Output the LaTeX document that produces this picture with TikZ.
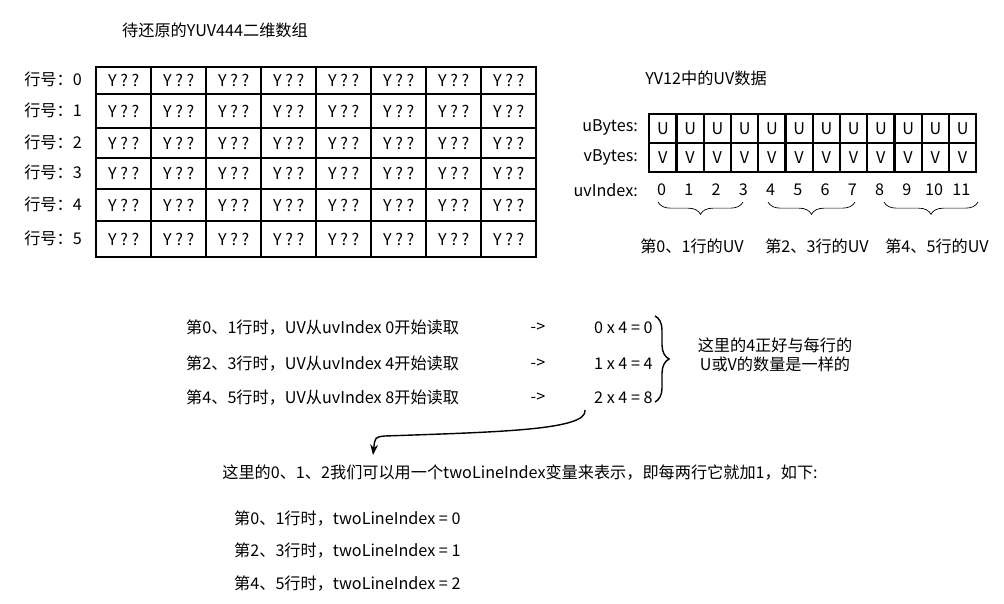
\documentclass[tikz,border=0pt]{standalone}
\usepackage{fontspec}
\setmainfont{Noto Sans CJK SC}
\usetikzlibrary{decorations.pathreplacing,arrows.meta}
\begin{document}
\begin{tikzpicture}[x=0.02cm,y=-0.02cm,font=\fontsize{9.2}{11}\selectfont,
  cell/.style={draw,line width=1.4pt,minimum width=55*0.02cm,minimum height=#1,inner sep=0pt,anchor=north west},
  uv/.style={draw,line width=1.4pt,minimum width=27.25*0.02cm,minimum height=29*0.02cm,inner sep=0pt,anchor=north west},
  brc/.style={decorate,decoration={brace,mirror,amplitude=7pt},thin}]
\useasboundingbox (0,0) rectangle (1004,604);
\node (title) at (215,30) {待还原的YUV444二维数组};
\foreach \r/\yt/\h in {0/66/27,1/93/34,2/127/30,3/157/31,4/188/32,5/220/36}{
  \node[anchor=east] (rl\r) at (88,\yt+\h/2) {行号：\r};
  \foreach \c in {0,...,7}{
    \node[cell=\h*0.02cm] (c\r\c) at (95+55*\c,\yt) {Y ? ?};
  }
}
\node (uvt) at (706,78) {YV12中的UV数据};
\foreach \c/\n in {0/0,1/1,2/2,3/3,4/4,5/5,6/6,7/7,8/8,9/9,10/10,11/11}{
  \node[uv] (u\c) at (648+27.25*\c,113) {U};
  \node[uv] (v\c) at (648+27.25*\c,142) {V};
  \node (i\c) at (661.6+27.25*\c,190) {\n};
}
\node[anchor=east] (lu) at (644,127) {uBytes:};
\node[anchor=east] (lv) at (644,157) {vBytes:};
\node[anchor=east] (li) at (644,190) {uvIndex:};
\draw[brc] (658,202) -- (743,202);
\draw[brc] (768,202) -- (855,202);
\draw[brc] (884,202) -- (978,202);
\node (g1) at (692,246) {第0、1行的UV};
\node (g2) at (817,246) {第2、3行的UV};
\node (g3) at (937,246) {第4、5行的UV};
\foreach \k/\a/\b/\y in {0/0/0/328,1/4/1/364,2/8/2/398}{
  \pgfmathtruncatemacro{\rA}{2*\k}\pgfmathtruncatemacro{\rB}{2*\k+1}
  \pgfmathtruncatemacro{\res}{4*\k}
  \node[anchor=west] (s\k) at (180,\y) {第\rA、\rB 行时，UV从uvIndex \a 开始读取};
  \node (ar\k) at (538,\y) {->};
  \node[anchor=west] (e\k) at (588,\y) {\k{} x 4 = \res};
}
\draw[decorate,decoration={brace,amplitude=8pt},thick] (655,316) -- (655,402);
\node[align=center] (note) at (775,355) {这里的4正好与每行的\\U或V的数量是一样的};
\coordinate (ps) at (585,410);
\draw[-{Stealth[length=6pt]},thick] (ps) .. controls (588,430) and (500,432) .. (385,436) .. controls (375,437) .. (373,455);
\node (line) at (520,473) {这里的0、1、2我们可以用一个twoLineIndex变量来表示，即每两行它就加1，如下:};
\node[anchor=west] (t0) at (228,519) {第0、1行时，twoLineIndex = 0};
\node[anchor=west] (t1) at (228,551) {第2、3行时，twoLineIndex = 1};
\node[anchor=west] (t2) at (228,584) {第4、5行时，twoLineIndex = 2};
\end{tikzpicture}
\end{document}
